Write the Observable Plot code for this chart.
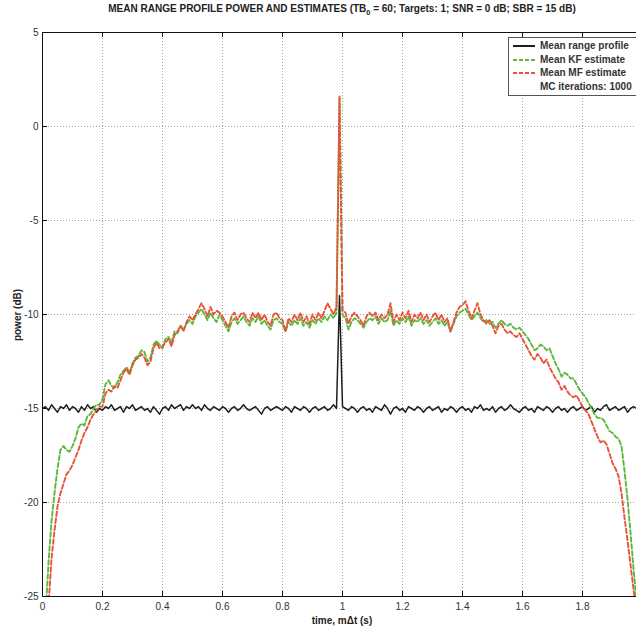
<!DOCTYPE html>
<html>
<head>
<meta charset="utf-8">
<script src="https://cdn.jsdelivr.net/npm/d3@7"></script>
<script src="https://cdn.jsdelivr.net/npm/@observablehq/plot@0.6"></script>
<style>
  html, body { margin: 0; padding: 0; background: #fff; }
  #wrap { position: relative; width: 636px; height: 633px; overflow: hidden; font-family: "Liberation Sans", Arial, sans-serif; }
  #title { position: absolute; left: 0; width: 684px; top: 2px; text-align: center; font-family: "Liberation Sans Narrow", "Liberation Sans", Arial, sans-serif; font-weight: bold; font-size: 11px; color: #222; white-space: nowrap; transform: scaleX(0.91); transform-origin: 342px 0; }
  #title sub { font-size: 8px; }
  #chart { position: absolute; left: 0; top: 22px; }
  #xlabel { position: absolute; top: 615px; left: 0; width: 684px; text-align: center; font-weight: bold; font-size: 10px; color: #222; font-family: "Liberation Sans Narrow", "Liberation Sans", Arial, sans-serif; }
  #ylabel { position: absolute; left: 17px; top: 315px; transform: translate(-50%, -50%) rotate(-90deg); font-weight: bold; font-size: 10px; color: #222; white-space: nowrap; font-family: "Liberation Sans Narrow", "Liberation Sans", Arial, sans-serif; }
  #legend { position: absolute; left: 508px; top: 37px; width: 140px; height: 57px; border: 1px solid #555; background: #fff; font-family: "Liberation Sans Narrow", "Liberation Sans", Arial, sans-serif; font-weight: bold; font-size: 10px; color: #333; }
  #legend .row { position: absolute; left: 4px; height: 12px; line-height: 12px; white-space: nowrap; }
  #legend svg { vertical-align: middle; margin-right: 5px; }
</style>
</head>
<body>
<div id="wrap">
  <div id="title">MEAN RANGE PROFILE POWER AND ESTIMATES (TB<sub>0</sub> = 60; Targets: 1; SNR = 0 dB; SBR = 15 dB)</div>
  <div id="chart"></div>
  <div id="xlabel">time, mΔt (s)</div>
  <div id="ylabel">power (dB)</div>
  <div id="legend"></div>
</div>
<script>
// ---- data ----
const xTicks = [0, 0.2, 0.4, 0.6, 0.8, 1, 1.2, 1.4, 1.6, 1.8];
const yTicks = [-25, -20, -15, -10, -5, 0, 5];
const seriesNames = ["Mean range profile", "Mean KF estimate", "Mean MF estimate"];
const legendNote = "MC iterations: 1000";
const sampleStart = 0;      // s
const sampleStep = 0.01;    // s

// Mean range profile (black), samples 0.00 .. 1.98 s
const meanProfile = [
  -15.0,-14.9,-15.1,-14.8,-15.0,-15.2,-14.9,-15.0,-14.8,-15.1,
  -14.9,-15.0,-15.2,-14.9,-15.1,-14.8,-15.0,-14.9,-15.2,-15.0,
  -15.1,-14.9,-15.0,-14.8,-15.1,-15.0,-14.9,-15.2,-14.9,-15.0,
  -14.8,-15.1,-15.0,-14.9,-15.1,-15.0,-15.2,-14.9,-15.1,-15.3,
  -15.0,-14.9,-15.1,-14.8,-15.0,-14.9,-14.8,-15.1,-14.9,-15.0,
  -14.8,-15.0,-14.9,-15.1,-14.8,-15.0,-15.1,-14.9,-15.0,-15.1,
  -14.9,-15.0,-15.2,-15.0,-14.9,-15.1,-15.0,-14.8,-15.0,-15.1,
  -15.0,-14.9,-15.1,-15.3,-15.0,-14.9,-15.1,-15.0,-14.9,-15.0,
  -15.1,-14.9,-15.0,-15.2,-14.9,-15.0,-15.1,-14.9,-15.0,-15.2,
  -15.0,-14.9,-15.1,-15.0,-14.9,-15.1,-15.0,-14.8,-15.0,-9.0,
  -14.9,-15.0,-15.1,-14.9,-15.0,-15.2,-15.0,-14.9,-15.1,-15.0,
  -15.2,-14.9,-15.0,-15.1,-14.8,-15.0,-15.3,-15.0,-14.9,-15.1,
  -15.0,-15.2,-14.9,-15.0,-15.1,-14.9,-15.0,-15.2,-15.0,-14.9,
  -15.1,-15.0,-14.9,-15.2,-15.0,-15.1,-14.9,-15.0,-15.2,-15.0,
  -14.9,-15.1,-15.0,-15.2,-14.9,-15.0,-14.8,-15.1,-15.0,-15.1,
  -14.9,-15.2,-15.0,-14.9,-15.1,-15.0,-14.8,-15.0,-15.1,-15.2,
  -15.0,-14.9,-15.1,-15.0,-15.2,-14.9,-15.0,-15.1,-14.9,-15.0,
  -15.2,-15.0,-14.9,-15.1,-15.0,-15.2,-15.0,-14.9,-15.1,-15.0,
  -14.9,-15.1,-15.0,-14.9,-15.2,-15.0,-15.1,-14.9,-14.8,-15.1,
  -15.0,-14.9,-15.1,-15.0,-14.9,-15.2,-15.0,-14.9,-15.0
];

// Mean KF estimate (green dashed)
const kfEstimate = [
  -30,-26,-23.2,-21,-19.5,-18.2,-17.2,-17.0,-17.2,-17.3,
  -17.0,-16.6,-16.0,-15.8,-15.9,-15.4,-15.3,-15.0,-14.8,-14.8,
  -14.5,-13.7,-13.5,-13.8,-13.9,-13.6,-13.2,-13.0,-12.8,-13.1,
  -12.6,-12.3,-12.2,-11.9,-12.0,-12.5,-12.3,-11.6,-11.4,-11.6,
  -11.8,-11.3,-11.2,-11.5,-10.9,-11.0,-10.6,-10.8,-10.5,-10.3,
  -10.5,-10.1,-9.9,-9.7,-10.0,-10.3,-9.9,-10.2,-10.4,-10.0,
  -10.3,-10.6,-10.9,-10.4,-10.2,-10.5,-10.3,-10.1,-10.4,-10.6,
  -10.2,-10.4,-10.1,-10.5,-10.3,-10.6,-10.8,-10.3,-10.2,-10.4,
  -10.5,-10.9,-10.4,-10.6,-10.3,-10.5,-10.2,-10.6,-10.4,-10.7,
  -10.3,-10.5,-10.2,-10.4,-10.1,-10.3,-10.0,-10.2,-9.9,1.5,
  -10.0,-10.2,-10.8,-10.4,-10.2,-10.3,-10.5,-10.7,-10.4,-10.2,
  -10.3,-10.1,-10.5,-10.2,-10.4,-10.3,-9.8,-10.6,-10.3,-10.5,
  -10.2,-10.4,-10.1,-10.6,-10.3,-10.4,-10.2,-10.5,-10.3,-10.6,
  -10.4,-10.2,-10.5,-10.3,-10.6,-10.4,-10.9,-10.5,-10.1,-9.9,
  -9.8,-9.7,-10.0,-10.3,-10.1,-9.9,-10.2,-10.4,-10.3,-10.5,
  -10.4,-10.7,-10.5,-10.3,-10.5,-10.6,-10.5,-10.7,-10.8,-10.7,
  -10.9,-11.1,-11.3,-11.6,-11.9,-11.8,-11.6,-11.7,-11.9,-11.8,
  -12.2,-12.6,-12.9,-13.3,-13.1,-13.2,-13.4,-13.4,-13.7,-14.0,
  -14.2,-14.4,-14.7,-15.0,-15.3,-15.5,-15.5,-15.6,-15.9,-16.2,
  -16.3,-16.5,-16.6,-17.0,-18.3,-19.8,-21.6,-23.5,-25.2
];

// Mean MF estimate (red dashed)
const mfEstimate = [
  -30,-28,-25.5,-23,-21.5,-20.2,-19.5,-19.0,-18.5,-18.3,
  -18.0,-17.6,-17.2,-16.7,-16.3,-16.0,-15.6,-15.3,-15.1,-14.9,
  -14.9,-14.2,-14.0,-14.1,-13.8,-13.9,-13.5,-13.1,-12.9,-13.2,
  -12.7,-12.4,-12.3,-12.1,-12.3,-12.7,-12.5,-11.8,-11.5,-11.8,
  -11.7,-11.5,-11.3,-11.7,-11.1,-10.9,-10.6,-10.9,-10.4,-10.1,
  -10.3,-10.0,-9.7,-9.4,-9.7,-10.1,-9.6,-10.0,-9.8,-9.9,
  -10.1,-10.4,-10.7,-10.1,-9.9,-10.3,-10.0,-9.9,-10.2,-10.4,
  -9.9,-10.2,-9.9,-10.3,-10.0,-10.4,-10.6,-10.0,-9.9,-10.2,
  -10.3,-10.9,-10.2,-10.4,-10.0,-10.3,-9.9,-10.4,-10.1,-10.5,
  -10.0,-10.3,-9.9,-10.2,-9.8,-9.4,-9.7,-10.0,-9.6,1.6,
  -9.8,-9.9,-10.5,-10.1,-9.9,-10.1,-10.3,-10.6,-10.1,-9.9,
  -10.1,-9.9,-10.3,-10.0,-10.2,-10.0,-9.4,-10.4,-10.0,-10.3,
  -9.9,-10.2,-9.8,-10.4,-10.0,-10.2,-9.9,-10.3,-10.0,-10.4,
  -10.1,-9.9,-10.3,-10.0,-10.4,-10.2,-10.9,-10.4,-9.9,-9.6,
  -9.5,-9.3,-9.8,-10.2,-9.8,-9.4,-10.0,-10.3,-10.5,-10.3,
  -10.6,-11.0,-10.6,-10.5,-10.8,-11.0,-10.9,-11.1,-11.2,-11.0,
  -11.3,-11.6,-11.9,-12.2,-12.4,-12.1,-12.3,-12.6,-12.4,-12.8,
  -13.1,-13.4,-13.6,-14.0,-13.8,-14.1,-14.3,-14.4,-14.3,-14.6,
  -14.9,-15.1,-15.3,-15.7,-16.1,-16.5,-16.8,-16.7,-16.9,-17.4,
  -17.9,-18.2,-18.6,-19.5,-20.8,-22.0,-23.3,-24.6,-26.0
];

// ---- styles ----
const colors = ["#1e1e1e", "#5cb83c", "#e4553a"];
const dashes = [null, "4.5,2.5", "4.5,2.5"];
const widths = [1.5, 1.9, 1.9];

// ---- build table ----
const allSeries = [meanProfile, kfEstimate, mfEstimate];
const rows = allSeries.flatMap((vals, si) =>
  vals.map((v, i) => ({ t: +(sampleStart + i * sampleStep).toFixed(3), v, s: seriesNames[si] }))
);

const W = 636, H = 611, mT = 10, mB = 37, mL = 42, mR = 0;
const plotH = H - mT - mB, plotW = W - mL - mR;
const gridStyle = { stroke: "#8a8a8a", strokeDasharray: "1,2", strokeWidth: 0.8 };

const chart = Plot.plot({
  width: W, height: H,
  marginTop: mT, marginBottom: mB, marginLeft: mL, marginRight: mR,
  style: { fontFamily: "'Liberation Sans', Arial, sans-serif", fontSize: "10px", color: "#333", background: "#fff" },
  x: { domain: [0, 1.98], ticks: xTicks, tickSize: 0, tickPadding: 6, tickFormat: d => String(d), label: null },
  y: { domain: [-25, 5], ticks: yTicks, tickSize: 0, tickPadding: 4, tickFormat: d => String(d), label: null },
  marks: [
    Plot.ruleX(xTicks.filter(d => d > 0), { x: d => d, ...gridStyle }),
    Plot.ruleY(yTicks.filter(d => d > -25 && d < 5), { y: d => d, ...gridStyle }),
    ...seriesNames.map((name, si) =>
      Plot.line(rows.filter(r => r.s === name), {
        x: "t", y: "v", stroke: colors[si], strokeWidth: widths[si],
        strokeDasharray: dashes[si], clip: true, strokeLinejoin: "round"
      })
    ),
    // frame (left, top, bottom)
    Plot.ruleX([0], { stroke: "#111", strokeWidth: 1 }),
    Plot.ruleY([-25, 5], { stroke: "#111", strokeWidth: 1 }),
    // inward ticks
    Plot.tickX(xTicks, { x: d => d, insetTop: plotH - 5, stroke: "#111" }),
    Plot.tickX(xTicks, { x: d => d, insetBottom: plotH - 5, stroke: "#111" }),
    Plot.tickY(yTicks, { y: d => d, insetRight: plotW - 5, stroke: "#111" })
  ]
});
document.getElementById("chart").appendChild(chart);

// ---- legend ----
const legend = document.getElementById("legend");
const legendItems = seriesNames.map((n, i) => ({ name: n, color: colors[i], dash: dashes[i] }));
legendItems.forEach((it, i) => {
  const row = document.createElement("div");
  row.className = "row";
  row.style.top = (2 + i * 13.5) + "px";
  row.innerHTML = `<svg width="22" height="6"><line x1="0" y1="3" x2="22" y2="3" stroke="${it.color}" stroke-width="2" ${it.dash ? `stroke-dasharray="4,2"` : ""}/></svg>${it.name}`;
  legend.appendChild(row);
});
const note = document.createElement("div");
note.className = "row";
note.style.top = (2 + 3 * 13.5) + "px";
note.style.left = "31px";
note.textContent = legendNote;
legend.appendChild(note);
</script>
</body>
</html>
